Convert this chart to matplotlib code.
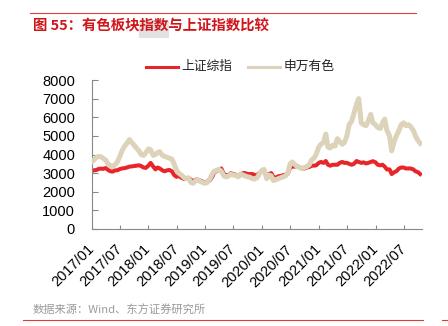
import matplotlib
matplotlib.use("Agg")
import matplotlib.pyplot as plt
import pandas as pd
from matplotlib.lines import Line2D
from matplotlib.patches import Rectangle

# ---- data (semi-monthly) ----
dates = pd.date_range("2017-01-01", "2022-10-15", freq="SMS")

sse = [
    # 2017
    3120, 3150, 3170, 3230, 3240, 3230, 3270, 3180, 3100, 3080, 3150, 3150,
    3220, 3250, 3270, 3300, 3350, 3360, 3380, 3400, 3420, 3380, 3300, 3280,
    # 2018
    3400, 3550, 3350, 3200, 3300, 3250, 3150, 3100, 3150, 3170, 3100, 2900,
    2800, 2850, 2750, 2700, 2700, 2750, 2650, 2550, 2650, 2650, 2600, 2550,
    # 2019
    2480, 2560, 2620, 2800, 3050, 3100, 3200, 3250, 2950, 2900, 2880, 3000,
    2950, 2920, 2850, 2880, 3000, 3000, 2950, 2950, 2950, 2900, 2900, 3000,
    # 2020
    3080, 3080, 2800, 2950, 3000, 2800, 2750, 2830, 2850, 2880, 2920, 2970,
    3300, 3350, 3350, 3380, 3300, 3250, 3250, 3300, 3330, 3400, 3400, 3420,
    # 2021
    3550, 3600, 3550, 3650, 3450, 3400, 3450, 3450, 3450, 3550, 3600, 3550,
    3550, 3500, 3450, 3500, 3650, 3600, 3550, 3580, 3520, 3550, 3600, 3640,
    # 2022
    3580, 3450, 3420, 3450, 3350, 3200, 3200, 2950, 3050, 3100, 3250, 3300,
    3300, 3250, 3250, 3250, 3200, 3100, 3050, 2950,
]

metals = [
    # 2017
    3600, 3700, 3850, 3900, 3880, 3800, 3700, 3500, 3400, 3350, 3450, 3600,
    3900, 4200, 4450, 4600, 4800, 4650, 4500, 4350, 4200, 4000, 3950, 4100,
    # 2018
    4300, 4250, 3950, 4000, 4100, 4150, 3950, 3900, 3850, 3800, 3750, 3500,
    3150, 3000, 2900, 2780, 2700, 2750, 2500, 2450, 2600, 2650, 2550, 2500,
    # 2019
    2450, 2500, 2700, 2950, 3100, 3150, 3200, 3100, 2850, 2800, 2850, 2950,
    2900, 2880, 2800, 2950, 2900, 2850, 2800, 2780, 2700, 2680, 2750, 2950,
    # 2020
    3150, 3200, 2700, 2900, 2850, 2600, 2650, 2700, 2750, 2800, 2850, 3000,
    3500, 3600, 3450, 3350, 3300, 3250, 3300, 3350, 3450, 3700, 3800, 4000,
    # 2021
    4400, 4550, 4650, 5100, 4400, 4350, 4500, 4450, 4850, 4700, 4550, 4650,
    5000, 5600, 5800, 6200, 6700, 7000, 5700, 5600, 5550, 5800, 6150, 5700,
    # 2022
    5600, 5450, 5400, 5700, 5900, 5300, 5000, 4200, 4700, 5000, 5300, 5600,
    5700, 5550, 5600, 5500, 5300, 5000, 4750, 4600,
]

series_names = ["上证综指", "申万有色"]
yticks = [0, 1000, 2000, 3000, 4000, 5000, 6000, 7000, 8000]
xtick_dates = pd.date_range("2017-01-01", "2022-07-01", freq="6MS")
xtick_labels = [d.strftime("%Y/%m") for d in xtick_dates]

RED = "#E8262A"
BEIGE = "#DDD3BA"

W, H = 448, 326
fig = plt.figure(figsize=(W / 100, H / 100), dpi=100)
fig.patch.set_facecolor("white")

def fx(px):
    return px / W

def fy(py):
    return 1 - py / H

ax = fig.add_axes([fx(91.7), fy(229), fx(422) - fx(91.7), fy(80) - fy(229)])
ax.plot(dates, sse, color=RED, lw=2.9, solid_joinstyle="round", zorder=2)
ax.plot(dates, metals, color=BEIGE, lw=3.6, solid_joinstyle="round", zorder=3)

ax.set_ylim(0, 8000)
ax.set_xlim(pd.Timestamp("2017-01-01"), pd.Timestamp("2022-10-27"))
ax.set_yticks(yticks)
ax.set_yticklabels([str(v) for v in yticks], fontsize=10.5,
                   family=["Liberation Sans", "DejaVu Sans"])
ax.set_xticks(xtick_dates)
ax.set_xticklabels(xtick_labels, rotation=45, ha="right", va="center",
                   rotation_mode="anchor", fontsize=10.5,
                   family=["Liberation Sans", "DejaVu Sans"])
for s in ["top", "right"]:
    ax.spines[s].set_visible(False)
for s in ["left", "bottom"]:
    ax.spines[s].set_color("#888888")
    ax.spines[s].set_linewidth(0.8)
ax.tick_params(axis="y", direction="in", length=4, width=0.8, color="#888888", pad=12)
ax.tick_params(axis="x", direction="in", length=3, width=0.8, color="#888888", pad=13)
ax.patch.set_alpha(0)

# legend (manual, figure coordinates)
fig.add_artist(Line2D([fx(146), fx(178)], [fy(66.7), fy(66.7)], color=RED, lw=2.2,
                      transform=fig.transFigure))
fig.text(fx(181), fy(66.7), series_names[0], fontsize=9.2, color="#222222",
         va="center", ha="left", family=["Noto Sans CJK SC", "DejaVu Sans"])
fig.add_artist(Line2D([fx(247.5), fx(280)], [fy(66.7), fy(66.7)], color=BEIGE, lw=2.2,
                      transform=fig.transFigure))
fig.text(fx(283.7), fy(66.7), series_names[1], fontsize=9.2, color="#222222",
         va="center", ha="left", family=["Noto Sans CJK SC", "DejaVu Sans"])

# header / footer
fig.add_artist(Line2D([fx(30), fx(416)], [fy(13.3), fy(13.3)], color="#E03A3A", lw=0.8,
                      transform=fig.transFigure))
fig.add_artist(Rectangle((fx(139.3), fy(38.3)), fx(168.7) - fx(139.3), fy(20) - fy(38.3),
                         transform=fig.transFigure, facecolor="#E2E2E2",
                         edgecolor="none", zorder=0))
fig.text(fx(33.3), fy(26.5), "图 55：有色板块指数与上证指数比较", fontsize=10.4,
         color="#D0161B", fontweight="bold", va="center", ha="left",
         family=["Noto Sans CJK SC", "DejaVu Sans"], zorder=2)
fig.text(fx(32.5), fy(310), "数据来源：Wind、东方证券研究所", fontsize=8.1,
         color="#9A9A9A", va="center", ha="left",
         family=["Noto Sans CJK SC", "DejaVu Sans"])
fig.add_artist(Line2D([fx(23), fx(423)], [fy(320), fy(320)], color="#E03A3A", lw=0.8,
                      transform=fig.transFigure))
fig.add_artist(Line2D([fx(442), fx(448)], [fy(320), fy(320)], color="#E03A3A", lw=0.8,
                      transform=fig.transFigure))

fig.savefig("out.png", dpi=100)
